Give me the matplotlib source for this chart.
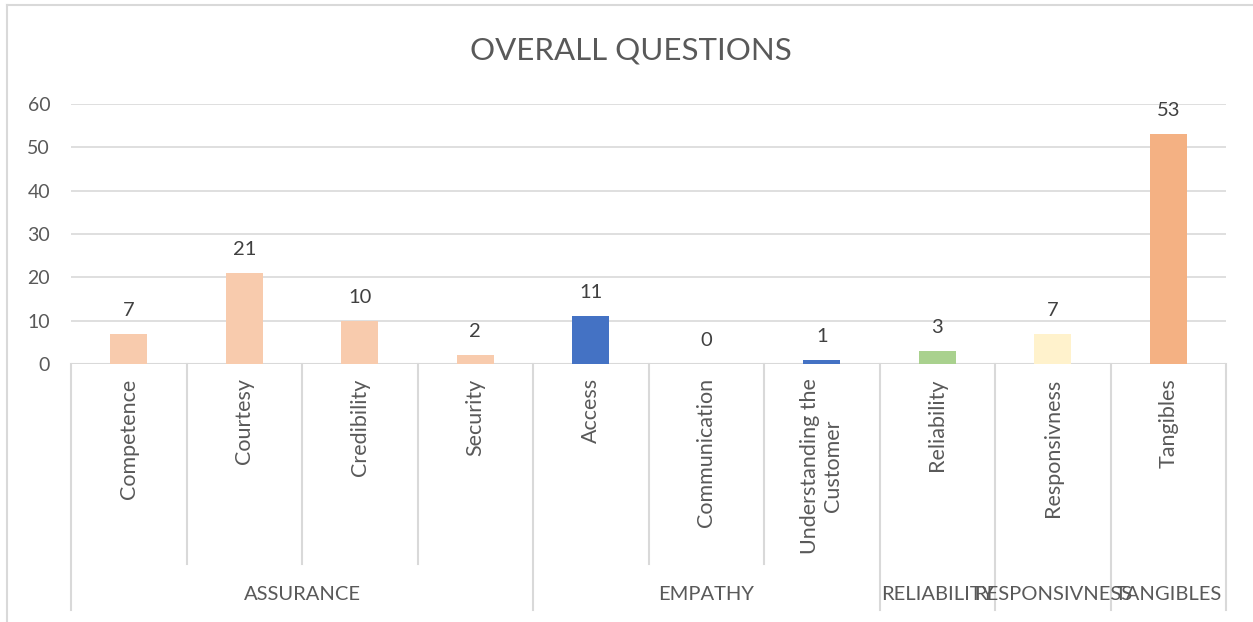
#!/usr/bin/env python3
"""
OVERALL QUESTIONS - grouped category bar chart (Excel style, two-level x axis)
"""

import matplotlib
matplotlib.use("Agg")
import matplotlib.pyplot as plt
from matplotlib.lines import Line2D

# data
groups = ["ASSURANCE", "EMPATHY", "RELIABILITY", "RESPONSIVNESS", "TANGIBLES"]
group_sizes = [4, 3, 1, 1, 1]
categories = ["Competence", "Courtesy", "Credibility", "Security",
              "Access", "Communication", "Understanding the\nCustomer",
              "Reliability", "Responsivness", "Tangibles"]
values = [7, 21, 10, 2, 11, 0, 1, 3, 7, 53]
bar_colors = ["#F8CBAD", "#F8CBAD", "#F8CBAD", "#F8CBAD",
              "#4472C4", "#4472C4", "#4472C4",
              "#A9D18E", "#FFF2CC", "#F4B183"]

TEXT = "#595959"
GRID = "#D9D9D9"
plt.rcParams['font.family'] = ['Lato', 'DejaVu Sans']

W, H = 1253, 622
fig = plt.figure(figsize=(W / 100, H / 100), dpi=100)

# plot area in pixels: x 71..1226, y 104..364
ax = fig.add_axes([71 / W, (H - 364) / H, (1226 - 71) / W, 260 / H])
n = len(categories)
x = list(range(n))
ax.bar(x, values, width=0.32, color=bar_colors, zorder=3)
ax.set_xlim(-0.5, n - 0.5)
ax.set_ylim(0, 60)
ax.set_yticks(range(0, 61, 10))
ax.tick_params(axis='y', length=0, pad=15, labelsize=14, labelcolor=TEXT)
ax.set_xticks([])
ax.grid(axis='y', color=GRID, linewidth=1.2, zorder=0)
for s in ax.spines.values():
    s.set_visible(False)
ax.axhline(0, color=GRID, linewidth=1.5, zorder=2)

# data labels
for xi, v in zip(x, values):
    ax.annotate(str(v), (xi, v), xytext=(0, 17), textcoords='offset points',
                ha='center', va='center', fontsize=14.5, color="#404040")

# two-level category axis
trans = ax.get_xaxis_transform()
y_cat = -200 / 260
y_grp = -246 / 260
for xi, name in zip(x, categories):
    ax.text(xi, -0.055, name, rotation=90, ha='center', va='top',
            multialignment='center', fontsize=15.5, color=TEXT, transform=trans)

bounds = [0]
for g in group_sizes:
    bounds.append(bounds[-1] + g)
for i in range(n + 1):
    bottom = y_grp if i in bounds else y_cat
    ax.add_line(Line2D([i - 0.5, i - 0.5], [0, bottom], color=GRID, linewidth=1.5,
                       transform=trans, clip_on=False))
for gi, name in enumerate(groups):
    mid = (bounds[gi] + bounds[gi + 1]) / 2 - 0.5
    ax.text(mid, -230 / 260, name, ha='center', va='center', fontsize=14.5,
            color=TEXT, transform=trans)

# title
fig.text(631 / W, 1 - 50 / H, "OVERALL QUESTIONS", ha='center', va='center',
         fontsize=22.5, color=TEXT)

# chart border (left and top visible)
fig.add_artist(Line2D([7 / W, 7 / W], [0, 1 - 5 / H], color=GRID, linewidth=1.5))
fig.add_artist(Line2D([7 / W, 1], [1 - 5 / H, 1 - 5 / H], color=GRID, linewidth=1.5))

fig.savefig("out.png", dpi=100, facecolor="white")
